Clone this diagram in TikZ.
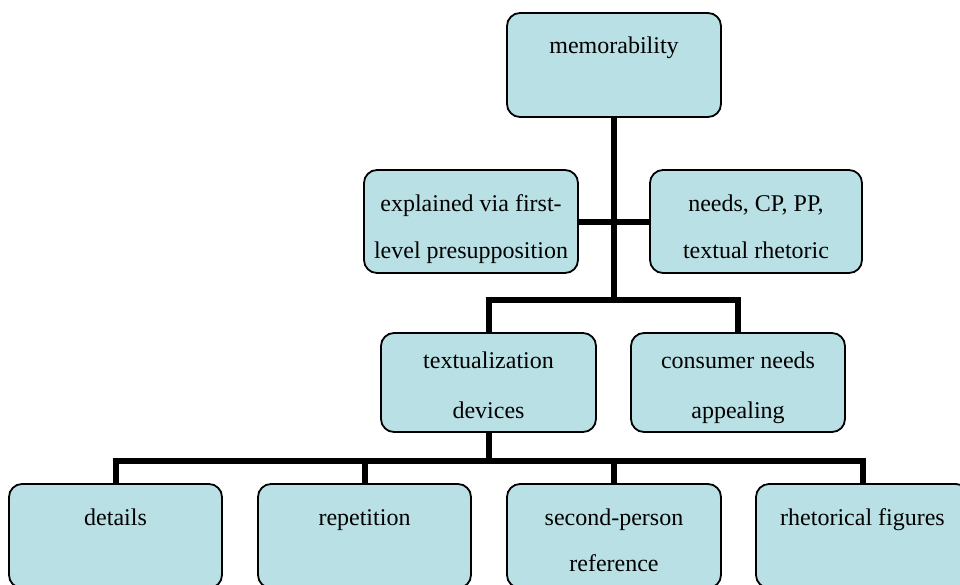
\documentclass[tikz,border=0pt]{standalone}
\usepackage{fontspec}
\setmainfont{Liberation Serif}
\usetikzlibrary{backgrounds}
\definecolor{boxfill}{RGB}{185,224,228}
\begin{document}
\begin{tikzpicture}[x=1pt,y=-1pt,
  box/.style={draw=black,line width=1.8pt,fill=boxfill,rounded corners=13pt,
    minimum width=214pt,minimum height=104pt,inner sep=0pt},
  txt/.style={inner sep=0pt,text height=16pt,text depth=5pt,yshift=-2.5pt,
    font=\fontsize{24}{28}\selectfont},
  link/.style={line width=6pt,line cap=butt}]
\useasboundingbox (0,0) rectangle (960,584);
% junction points of the tree
\coordinate (j1) at (614,300);
\coordinate (j1l) at (488.5,300);
\coordinate (j1r) at (738,300);
\coordinate (j2) at (488.5,461);
\coordinate (j2l) at (115.5,461);
\coordinate (j2r) at (862.5,461);
% boxes
\node[box] (mem) at (614,65) {};
\node[box,minimum height=103pt] (expl) at (471,221.5) {};
\node[box,minimum width=212pt,minimum height=103pt] (needs) at (756,221.5) {};
\node[box,minimum width=215pt,minimum height=99pt] (textdev) at (488.5,382.5) {};
\node[box,minimum height=99pt] (cons) at (738,382.5) {};
\node[box,minimum width=213pt] (det) at (115.5,536) {};
\node[box,minimum width=213pt] (rep) at (364.5,536) {};
\node[box] (sec) at (614,536) {};
\node[box,minimum width=213pt] (rhet) at (862.5,536) {};
% connectors, kept behind the boxes
\begin{scope}[on background layer]
\draw[link] (mem.south) -- (j1);
\draw[link] (expl.east) -- (needs.west);
\draw[link] ([xshift=-3pt]j1l) -- ([xshift=3pt]j1r);
\draw[link] (j1l) -- (textdev.north);
\draw[link] (j1r) -- (cons.north);
\draw[link] (textdev.south) -- (j2);
\draw[link] ([xshift=-3pt]j2l) -- ([xshift=3pt]j2r);
\draw[link] (j2l) -- (det.north);
\draw[link] (rep.north |- j2) -- (rep.north);
\draw[link] (sec.north |- j2) -- (sec.north);
\draw[link] (j2r) -- (rhet.north);
\end{scope}
% labels
\node[txt] (memt) at (614,45) {memorability};
\node[txt] (explt1) at (471,203) {explained via first-};
\node[txt] (explt2) at (471,250) {level presupposition};
\node[txt] (needst1) at (756,203) {needs, CP, PP,};
\node[txt] (needst2) at (756,250) {textual rhetoric};
\node[txt] (textt1) at (488.5,360) {textualization};
\node[txt] (textt2) at (488.5,410) {devices};
\node[txt] (const1) at (738,360) {consumer needs};
\node[txt] (const2) at (738,410) {appealing};
\node[txt] (dett) at (115.5,517) {details};
\node[txt] (rept) at (364.5,517) {repetition};
\node[txt] (sect1) at (614,517) {second-person};
\node[txt] (sect2) at (614,563) {reference};
\node[txt] (rhett) at (862.5,517) {rhetorical figures};
\end{tikzpicture}
\end{document}
